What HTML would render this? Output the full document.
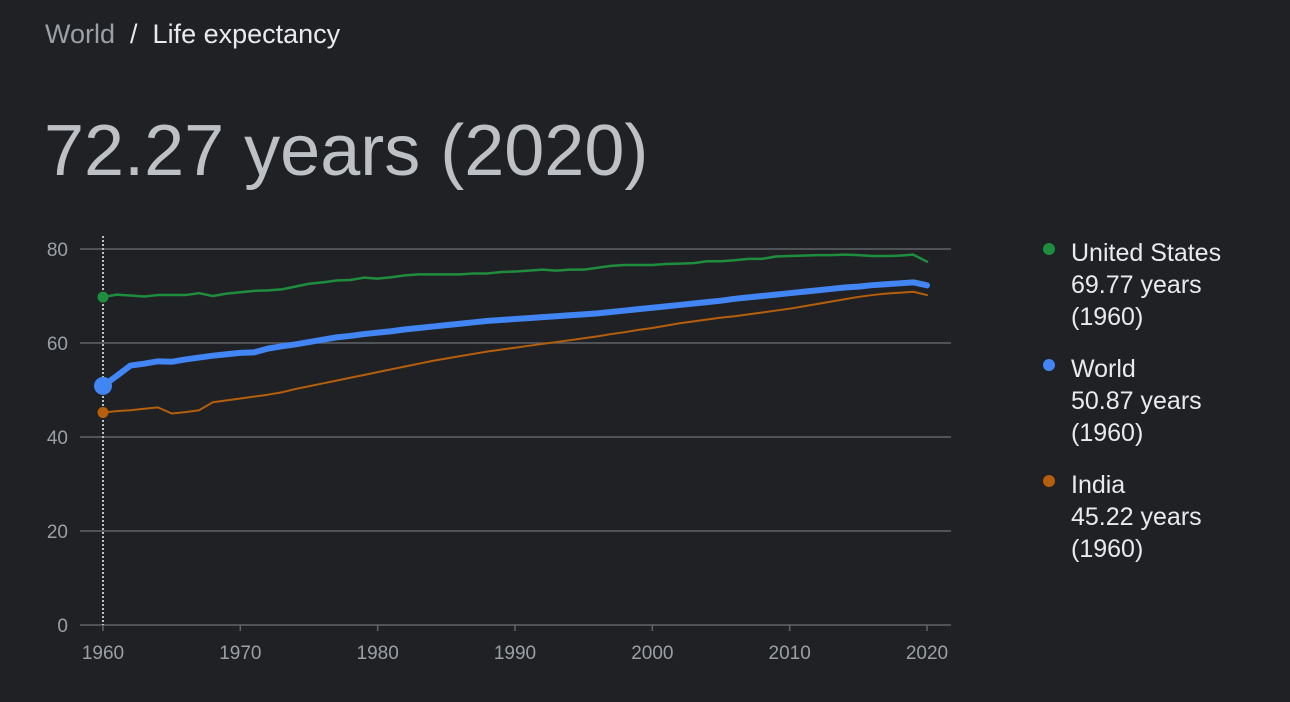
<!DOCTYPE html>
<html><head><meta charset="utf-8"><style>
body{margin:0;background:#202124;width:1290px;height:702px;overflow:hidden;font-family:"Liberation Sans",Arial,sans-serif;}
#crumb{position:absolute;left:45px;top:19px;font-size:27px;color:#e8eaed;}
#crumb .w{color:#9aa0a6}
#title{position:absolute;left:44px;top:110px;font-size:72px;color:#bdc1c6;}
svg{position:absolute;left:0;top:0}
</style></head><body>
<div id="crumb"><span class="w">World</span> &nbsp;/&nbsp; <span>Life expectancy</span></div>
<div id="title">72.27 years (2020)</div>
<svg id="chart" width="1290" height="702"></svg>
<script>
const years=[];for(let y=1960;y<=2020;y++)years.push(y);
const yTicks=[0,20,40,60,80];
const xTicks=[1960,1970,1980,1990,2000,2010,2020];
const usValues=[69.77,70.3,70.1,69.9,70.2,70.2,70.2,70.6,70.0,70.5,70.8,71.1,71.2,71.4,72.0,72.6,72.9,73.3,73.4,73.9,73.7,74.0,74.4,74.6,74.6,74.6,74.6,74.8,74.8,75.1,75.2,75.4,75.6,75.4,75.6,75.6,76.0,76.4,76.6,76.6,76.6,76.8,76.9,77.0,77.4,77.4,77.6,77.9,77.9,78.4,78.5,78.6,78.7,78.7,78.8,78.7,78.5,78.5,78.6,78.8,77.3];
const worldValues=[50.87,53.0,55.2,55.6,56.1,56.0,56.5,56.9,57.3,57.6,57.9,58.0,58.8,59.3,59.7,60.2,60.7,61.2,61.5,61.9,62.2,62.5,62.9,63.2,63.5,63.8,64.1,64.4,64.7,64.9,65.1,65.3,65.5,65.7,65.9,66.1,66.3,66.6,66.9,67.2,67.5,67.8,68.1,68.4,68.7,69.0,69.4,69.7,70.0,70.3,70.6,70.9,71.2,71.5,71.8,72.0,72.3,72.5,72.7,72.9,72.27];
const indiaValues=[45.22,45.5,45.7,46.0,46.3,45.0,45.3,45.7,47.4,47.8,48.2,48.6,49.0,49.5,50.2,50.8,51.4,52.0,52.6,53.2,53.8,54.4,55.0,55.6,56.2,56.7,57.2,57.7,58.2,58.6,59.0,59.4,59.8,60.2,60.6,61.0,61.4,61.9,62.3,62.8,63.2,63.7,64.2,64.6,65.0,65.4,65.7,66.1,66.5,66.9,67.3,67.8,68.3,68.8,69.3,69.8,70.2,70.5,70.7,70.9,70.2];
const seriesNames=["United States","World","India"];
const seriesLabels=["69.77 years","50.87 years","45.22 years"];
const svg=document.getElementById('chart');const NS='http://www.w3.org/2000/svg';
const X=v=>103+(v-1960)*(927-103)/60;
const Y=v=>625-v*(625-249)/80;
function mk(t,a){const e=document.createElementNS(NS,t);for(const k in a)e.setAttribute(k,a[k]);svg.appendChild(e);return e;}
yTicks.forEach(t=>{
 const l=mk('line',{x1:80,x2:951,y1:Y(t),y2:Y(t),stroke:'#5f6368','stroke-width':1.5});
 
 
 const tx=mk('text',{x:68,y:Y(t)+7,'text-anchor':'end','font-size':19,fill:'#9aa0a6'});tx.textContent=t;
 
 
});
xTicks.forEach(t=>{
 const tk=mk('line',{x1:X(t),x2:X(t),y1:625,y2:631,stroke:'#5f6368','stroke-width':1.5});
 
 
 const tx=mk('text',{x:X(t),y:659,'text-anchor':'middle','font-size':19,fill:'#9aa0a6'});tx.textContent=t;
 
 
});
const cur=mk('line',{x1:X(1960),x2:X(1960),y1:236,y2:625,stroke:'#bdc1c6','stroke-width':2,'stroke-dasharray':'2,2'});


const defs=[[usValues,'#1e8e3e',2.5,5.5],[indiaValues,'#b55e0c',2,5.5],[worldValues,'#4285f4',6,9]];
const nm={0:'united-states',1:'india',2:'world'};
defs.forEach((d,i)=>{
 const p=mk('polyline',{points:d[0].map((v,j)=>X(years[j])+','+Y(v)).join(' '),fill:'none',stroke:d[1],'stroke-width':d[2],'stroke-linejoin':'round','stroke-linecap':'round'});
 
 
 const c=mk('circle',{cx:X(1960),cy:Y(d[0][0]),r:d[3],fill:d[1]});
 
 
});
const legColors=['#1e8e3e','#4285f4','#b55e0c'];
seriesNames.forEach((n,i)=>{
 const y0=252+i*116;
 const c=mk('circle',{cx:1049,cy:y0-3,r:6,fill:legColors[i]});
 
 
 [n,seriesLabels[i],'(1960)'].forEach((s,k)=>{
  const t=mk('text',{x:1071,y:y0+9+k*32,'font-size':25,fill:'#e8eaed'});t.textContent=s;
  
  
 });
});
</script>
</body></html>
